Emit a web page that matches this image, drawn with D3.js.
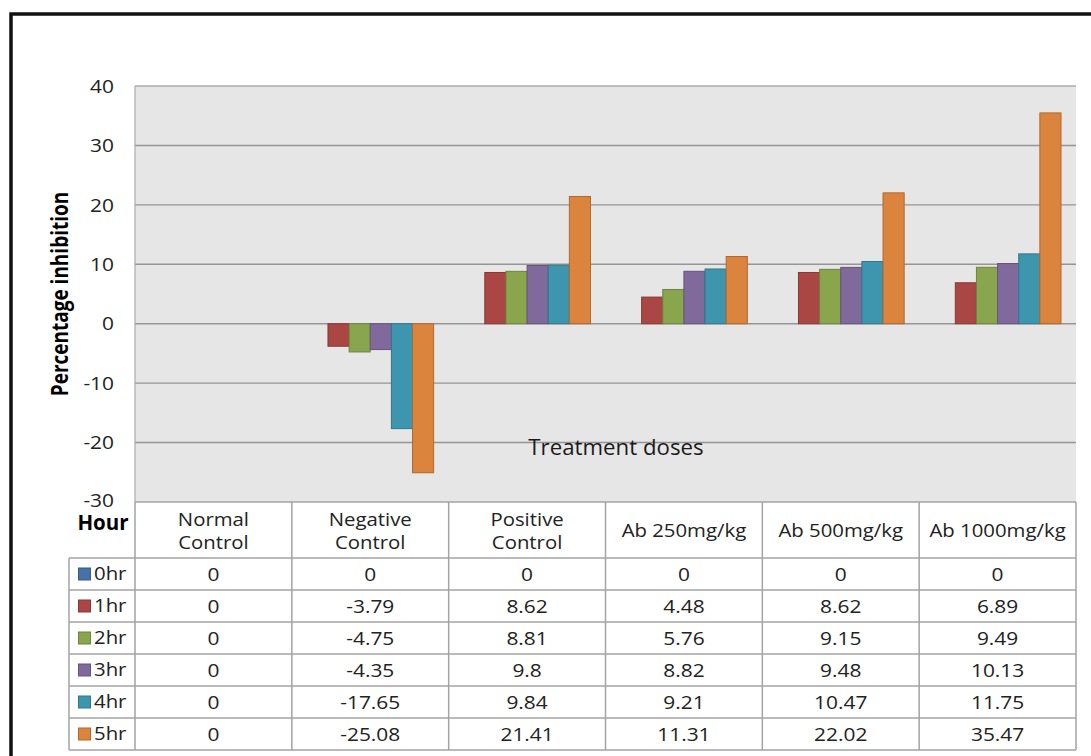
<!DOCTYPE html>
<html>
<head>
<meta charset="utf-8">
<script src="https://cdn.jsdelivr.net/npm/d3@7"></script>
<style>
  html, body { margin: 0; padding: 0; background: #fff; }
  svg { display: block; font-family: "Open Sans", "Noto Sans", sans-serif; }
</style>
</head>
<body>
<svg id="chart" width="1091" height="756"></svg>
<script>
// Treatment groups (x categories)
const categories = ["Normal Control", "Negative Control", "Positive Control",
                    "Ab 250mg/kg", "Ab 500mg/kg", "Ab 1000mg/kg"];
// Time points (series)
const hours = ["0hr", "1hr", "2hr", "3hr", "4hr", "5hr"];
// Percentage inhibition per time point, one value per treatment group
const hr0 = [0, 0, 0, 0, 0, 0];
const hr1 = [0, -3.79, 8.62, 4.48, 8.62, 6.89];
const hr2 = [0, -4.75, 8.81, 5.76, 9.15, 9.49];
const hr3 = [0, -4.35, 9.8, 8.82, 9.48, 10.13];
const hr4 = [0, -17.65, 9.84, 9.21, 10.47, 11.75];
const hr5 = [0, -25.08, 21.41, 11.31, 22.02, 35.47];
const seriesValues = [hr0, hr1, hr2, hr3, hr4, hr5];
// Axis ticks
const yTicks = [-30, -20, -10, 0, 10, 20, 30, 40];

const colors = ["#4572A7", "#AA4643", "#89A54E", "#80699B", "#3D96AE", "#DB843D"];
const strokes = ["#375a86", "#883835", "#6d843e", "#66547c", "#30788b", "#af6930"];

const svg = d3.select("#chart");
const SX = 1.1; // horizontal widening of label glyphs

// Place a text at (px, py) with slightly widened glyphs
function label(sel, px, py, sx) {
  return sel.attr("x", 0).attr("y", 0)
    .attr("transform", `translate(${px},${py}) scale(${sx || SX},1)`);
}

// Outer frame
svg.append("path")
  .attr("d", "M11,800 L11,14 L1100,14")
  .attr("fill", "none").attr("stroke", "#111").attr("stroke-width", 3.5);

// Plot geometry
const plotLeft = 135, plotRight = 1076, plotTop = 86, plotBottom = 502;
const legendLeft = 69;
const rowH = 32;
const headerBottom = 558;

const x = d3.scaleBand().domain(categories).range([plotLeft, plotRight]).padding(0);
const inner = d3.scaleBand().domain(hours)
  .range([15, x.bandwidth() - 15]).padding(0);
const y = d3.scaleLinear().domain([-30, 40]).range([plotBottom, plotTop]);

// Plot background
svg.append("rect")
  .attr("x", plotLeft).attr("y", plotTop)
  .attr("width", plotRight - plotLeft).attr("height", plotBottom - plotTop)
  .attr("fill", "#e6e6e6");

// Horizontal gridlines
svg.append("g").selectAll("line")
  .data(yTicks.filter(t => t > -30))
  .join("line")
  .attr("x1", plotLeft).attr("x2", plotRight)
  .attr("y1", d => y(d)).attr("y2", d => y(d))
  .attr("stroke", d => d === 40 ? "#ababab" : "#959595")
  .attr("stroke-width", 1.4);

// Left edge of plot
svg.append("line")
  .attr("x1", plotLeft).attr("x2", plotLeft)
  .attr("y1", plotTop).attr("y2", plotBottom)
  .attr("stroke", "#ababab").attr("stroke-width", 1.2);

// Y tick labels
svg.append("g").selectAll("text")
  .data(yTicks)
  .join("text")
  .each(function (d) {
    label(d3.select(this), 114, y(d) + (d === -30 ? -2 : 0));
  })
  .attr("dy", "0.35em")
  .attr("text-anchor", "end")
  .attr("font-size", 19)
  .attr("fill", "#222")
  .text(d => d);

// Y axis title
svg.append("text")
  .attr("transform", "translate(68,294) rotate(-90) scale(1,1.2)")
  .attr("text-anchor", "middle")
  .attr("font-size", 19)
  .attr("font-weight", "bold")
  .attr("fill", "#000")
  .text("Percentage inhibition");

// Bars
const groups = svg.append("g").selectAll("g")
  .data(hours.map((h, i) => ({ hour: h, i, values: seriesValues[i] })))
  .join("g");

groups.selectAll("rect")
  .data(s => s.values.map((v, j) => ({ v, cat: categories[j], hour: s.hour, i: s.i })))
  .join("rect")
  .attr("x", d => x(d.cat) + inner(d.hour))
  .attr("width", inner.bandwidth())
  .attr("y", d => Math.min(y(d.v), y(0)))
  .attr("height", d => Math.abs(y(d.v) - y(0)))
  .attr("fill", d => colors[d.i])
  .attr("stroke", d => d.v === 0 ? "none" : strokes[d.i])
  .attr("stroke-width", 1);

// Category axis title inside plot
label(svg.append("text"), 616, 455, 1.06)
  .attr("text-anchor", "middle")
  .attr("font-size", 21)
  .attr("fill", "#1a1a1a")
  .text("Treatment doses");

// ---- Data table ----
const tableBottom = headerBottom + rowH * hours.length;
const gridColor = "#a3a3a3";
const tbl = svg.append("g");

// Horizontal lines
tbl.append("line")
  .attr("x1", plotLeft).attr("x2", plotRight)
  .attr("y1", plotBottom).attr("y2", plotBottom)
  .attr("stroke", gridColor).attr("stroke-width", 1.5);
tbl.selectAll("line.row")
  .data(d3.range(hours.length + 1))
  .join("line").attr("class", "row")
  .attr("x1", legendLeft).attr("x2", plotRight)
  .attr("y1", d => headerBottom + d * rowH)
  .attr("y2", d => headerBottom + d * rowH)
  .attr("stroke", gridColor).attr("stroke-width", 1.5);

// Vertical lines
tbl.append("line")
  .attr("x1", legendLeft).attr("x2", legendLeft)
  .attr("y1", headerBottom).attr("y2", tableBottom)
  .attr("stroke", gridColor).attr("stroke-width", 1.5);
tbl.selectAll("line.col")
  .data(categories.map(c => x(c)).concat([plotRight]))
  .join("line").attr("class", "col")
  .attr("x1", d => d).attr("x2", d => d)
  .attr("y1", plotBottom).attr("y2", tableBottom)
  .attr("stroke", gridColor).attr("stroke-width", 1.5);

// Header corner label
label(tbl.append("text"), 103, 530, 1.0)
  .attr("text-anchor", "middle")
  .attr("font-size", 20.5).attr("font-weight", "bold")
  .attr("fill", "#000")
  .text("Hour");

// Category headers (two lines for the control groups)
categories.forEach(c => {
  const lines = c.includes("Control") ? c.split(" ") : [c];
  const cx = x(c) + x.bandwidth() / 2;
  const base = lines.length === 2 ? 525.5 : 536.5;
  lines.forEach((ln, k) => {
    label(tbl.append("text"), cx, base + k * 23.5)
      .attr("text-anchor", "middle")
      .attr("font-size", 18.5)
      .attr("fill", "#222")
      .text(ln);
  });
});

// Legend column: swatch + hour label
const legendRows = tbl.selectAll("g.leg")
  .data(hours)
  .join("g").attr("class", "leg")
  .attr("transform", (h, i) => `translate(0,${headerBottom + i * rowH + rowH / 2})`);
legendRows.append("rect")
  .attr("x", 78.5).attr("y", -6).attr("width", 12).attr("height", 12)
  .attr("fill", (h, i) => colors[i])
  .attr("stroke", (h, i) => strokes[i]).attr("stroke-width", 1);
legendRows.append("text")
  .attr("transform", `translate(94,0) scale(${SX},1)`)
  .attr("dy", "0.35em")
  .attr("font-size", 18.5).attr("fill", "#222")
  .text(h => h);

// Value cells
hours.forEach((h, i) => {
  tbl.append("g").selectAll("text")
    .data(seriesValues[i].map((v, j) => ({ v, cat: categories[j] })))
    .join("text")
    .each(function (d) {
      label(d3.select(this), x(d.cat) + x.bandwidth() / 2, headerBottom + i * rowH + rowH / 2);
    })
    .attr("dy", "0.36em")
    .attr("text-anchor", "middle")
    .attr("font-size", 19).attr("fill", "#222")
    .text(d => String(d.v));
});
</script>
</body>
</html>
